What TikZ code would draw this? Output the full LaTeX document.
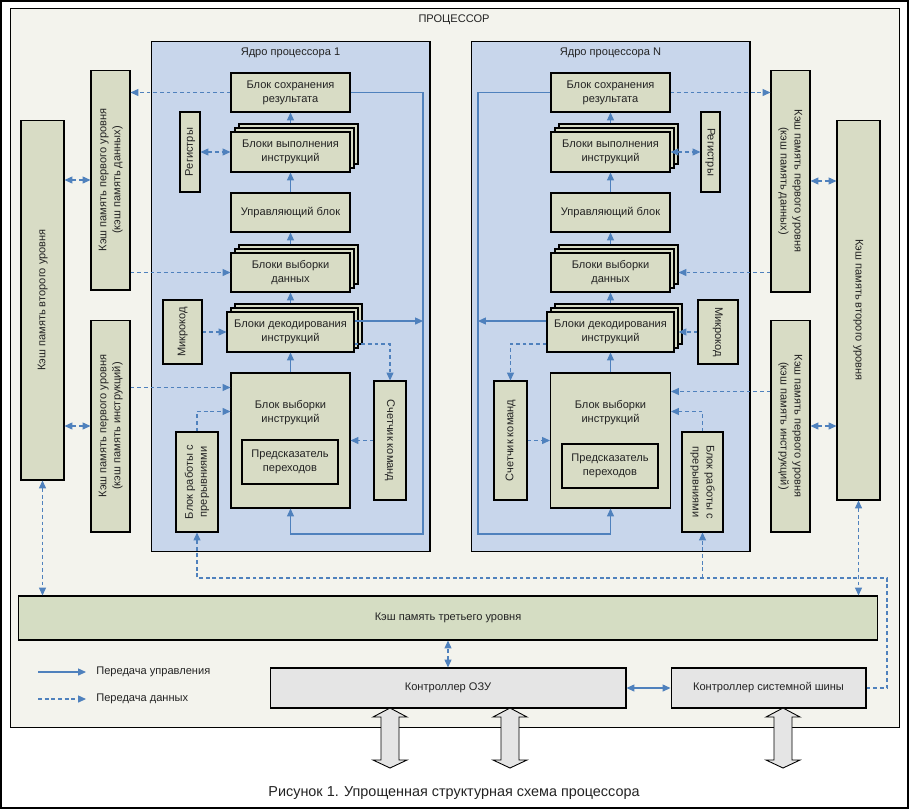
\documentclass[tikz,border=0pt]{standalone}
\usepackage{fontspec}
\setmainfont{Liberation Sans}
\usetikzlibrary{arrows.meta,shadows,positioning}

\definecolor{procbg}{RGB}{243,243,237}
\definecolor{corebg}{RGB}{200,214,235}
\definecolor{blkbg}{RGB}{216,220,197}
\definecolor{cachebg}{RGB}{213,221,195}
\definecolor{ctrlbg}{RGB}{229,229,229}
\definecolor{linkblue}{RGB}{79,129,189}
\definecolor{txtgray}{RGB}{35,35,35}

\newcommand\blkfont{\fontsize{6.3}{8}\selectfont}
\newcommand\vlab[2]{\rotatebox{#1}{\begin{tabular}{@{}c@{}}#2\end{tabular}}}

\tikzset{
  blk/.style={draw=black, fill=blkbg, line width=0.6pt, inner sep=0pt, align=center, text=txtgray},
  stack/.style={blk, copy shadow={shadow xshift=0.16cm, shadow yshift=0.16cm},
    copy shadow={shadow xshift=0.08cm, shadow yshift=0.08cm}},
  cache/.style={blk, fill=cachebg},
  ctrlbox/.style={blk, fill=ctrlbg},
  corebox/.style={draw=black, fill=corebg, line width=0.6pt, inner sep=0pt},
  lbl/.style={inner sep=0pt, align=center, text=txtgray},
  ctl/.style={draw=linkblue, line width=0.6pt, -{Triangle[length=4.5pt,width=4pt]}},
  ctl2/.style={ctl, {Triangle[length=4.5pt,width=4pt]}-{Triangle[length=4.5pt,width=4pt]}},
  dat/.style={ctl, dash pattern=on 2.2pt off 1.6pt},
  dat2/.style={ctl2, dash pattern=on 2.2pt off 1.6pt},
  bigarrow/.style={draw=black, fill=ctrlbg, line width=0.5pt}
}

\begin{document}
\begin{tikzpicture}[x=0.02cm, y=-0.02cm, font=\blkfont]
\useasboundingbox (0,0) rectangle (909,809);
\fill[white] (0,0) rectangle (909,809);
\draw[line width=1pt] (0.8,0.8) rectangle (908.2,808.2);

% processor and cores
\node[corebox, fill=procbg, minimum width=17.8cm, minimum height=14.4cm] (proc) at (455,368) {};
\node[lbl] (proct) at (454,20) {ПРОЦЕССОР};
\node[corebox, minimum width=5.58cm, minimum height=10.22cm] (core1) at (290.5,296.5) {};
\node[corebox, minimum width=5.58cm, minimum height=10.22cm] (coreN) at (610.5,296.5) {};
\node[lbl, anchor=north] (core1t) at ([yshift=-0.15cm]core1.north) {Ядро процессора 1};
\node[lbl, anchor=north] (coreNt) at ([yshift=-0.15cm]coreN.north) {Ядро процессора N};

% core 1
\node[blk, minimum width=2.38cm, minimum height=0.78cm] (save1) at (290.5,92.5) {Блок сохранения\\результата};
\node[stack, minimum width=2.38cm, minimum height=0.80cm] (exec1) at (290.5,152) {Блоки выполнения\\инструкций};
\node[blk, minimum width=0.40cm, minimum height=1.60cm] (reg1) at (190,152) {\vlab{90}{Регистры}};
\node[blk, minimum width=2.38cm, minimum height=0.78cm] (ctrl1) at (290.5,212.5) {Управляющий блок};
\node[stack, minimum width=2.38cm, minimum height=0.78cm] (dfetch1) at (290.5,272.5) {Блоки выборки\\данных};
\node[blk, minimum width=0.78cm, minimum height=1.28cm] (micro1) at (182.5,332) {\vlab{90}{Микрокод}};
\node[stack, minimum width=2.54cm, minimum height=0.80cm] (dec1) at (290.5,332) {Блоки декодирования\\инструкций};
\node[blk, minimum width=2.38cm, minimum height=2.70cm,
  label={[lbl, yshift=0.55cm]center:Блок выборки\\инструкций}] (ifetch1) at (290.5,440.5) {};
\node[blk, minimum width=1.92cm, minimum height=0.88cm] (pred1) at (290,462) {Предсказатель\\переходов};
\node[blk, minimum width=0.64cm, minimum height=2.38cm] (cnt1) at (390,440.5) {\vlab{-90}{Счетчик команд}};
\node[blk, minimum width=0.84cm, minimum height=2.00cm] (int1) at (197,482) {\vlab{90}{Блок работы с\\прерывниями}};

% core N
\node[blk, minimum width=2.38cm, minimum height=0.78cm] (saveN) at (610.5,92.5) {Блок сохранения\\результата};
\node[stack, minimum width=2.38cm, minimum height=0.80cm] (execN) at (610.5,152) {Блоки выполнения\\инструкций};
\node[blk, minimum width=0.38cm, minimum height=1.60cm] (regN) at (710.5,152) {\vlab{-90}{Регистры}};
\node[blk, minimum width=2.38cm, minimum height=0.78cm] (ctrlN) at (610.5,212.5) {Управляющий блок};
\node[stack, minimum width=2.38cm, minimum height=0.78cm] (dfetchN) at (610.5,272.5) {Блоки выборки\\данных};
\node[blk, minimum width=0.80cm, minimum height=1.28cm] (microN) at (718,332) {\vlab{-90}{Микрокод}};
\node[stack, minimum width=2.54cm, minimum height=0.80cm] (decN) at (610.5,332) {Блоки декодирования\\инструкций};
\node[blk, minimum width=2.40cm, minimum height=2.70cm,
  label={[lbl, yshift=0.55cm]center:Блок выборки\\инструкций}] (ifetchN) at (610.5,440.5) {};
\node[blk, minimum width=1.92cm, minimum height=0.88cm] (predN) at (610,466) {Предсказатель\\переходов};
\node[blk, minimum width=0.66cm, minimum height=2.38cm] (cntN) at (510.5,440.5) {\vlab{90}{Счетчик команд}};
\node[blk, minimum width=0.82cm, minimum height=2.00cm] (intN) at (702.5,482) {\vlab{-90}{Блок работы с\\прерывниями}};

% caches
\node[blk, minimum width=0.86cm, minimum height=7.20cm] (l2a) at (42.5,300) {\vlab{90}{Кэш память второго уровня}};
\node[blk, minimum width=0.78cm, minimum height=4.40cm] (l1da) at (110.5,180) {\vlab{90}{Кэш память первого уровня\\(кэш память данных)}};
\node[blk, minimum width=0.78cm, minimum height=4.24cm] (l1ia) at (110.5,426) {\vlab{90}{Кэш память первого уровня\\(кэш память инструкций)}};
\node[blk, minimum width=0.78cm, minimum height=4.44cm] (l1db) at (790.5,181) {\vlab{-90}{Кэш память первого уровня\\(кэш память данных)}};
\node[blk, minimum width=0.86cm, minimum height=7.60cm] (l2b) at (858.5,310) {\vlab{-90}{Кэш память второго уровня}};
\node[blk, minimum width=0.78cm, minimum height=4.24cm] (l1ib) at (790.5,426) {\vlab{-90}{Кэш память первого уровня\\(кэш память инструкций)}};
\node[cache, minimum width=17.20cm, minimum height=0.88cm] (l3) at (448,618) {Кэш память третьего уровня};

% controllers
\node[ctrlbox, minimum width=7.12cm, minimum height=0.80cm] (ram) at (448,688) {Контроллер ОЗУ};
\node[ctrlbox, minimum width=3.90cm, minimum height=0.80cm] (bus) at (768.5,688) {Контроллер системной шины};

% core 1 links
\draw[ctl] ([yshift=0.16cm]exec1.north) -- (save1.south);
\draw[ctl] (ctrl1.north) -- (exec1.south);
\draw[ctl] ([yshift=0.16cm]dfetch1.north) -- (ctrl1.south);
\draw[ctl] ([yshift=0.16cm]dec1.north) -- (dfetch1.south);
\draw[ctl] (ifetch1.north) -- (dec1.south);
\coordinate (ret1) at (423,534);
\draw[ctl] (save1.east) -| (ret1) -| (ifetch1.south);
\draw[ctl] ([yshift=0.22cm]dec1.east) -- ([yshift=0.22cm]dec1.east -| ret1);
\draw[dat] (save1.west) -- (save1.west -| l1da.east);
\draw[dat2] (reg1.east) -- (exec1.west);
\draw[dat2] (l1da.west) -- (l1da.west -| l2a.east);
\draw[dat] (dfetch1.west -| l1da.east) -- (dfetch1.west);
\draw[dat] (micro1.east) -- (dec1.west);
\draw[dat] ([yshift=-0.24cm]dec1.east) -| (cnt1.north);
\draw[dat] (cnt1.west) -- (cnt1.west -| ifetch1.east);
\draw[dat] ([yshift=-0.30cm]ifetch1.north west -| l1ia.east) -- ([yshift=-0.30cm]ifetch1.north west);
\draw[dat2] (l1ia.west) -- (l1ia.west -| l2a.east);
\draw[dat] (int1.north) |- ([yshift=-0.78cm]ifetch1.north west);

% core N links
\draw[ctl] ([yshift=0.16cm]execN.north) -- (saveN.south);
\draw[ctl] (ctrlN.north) -- (execN.south);
\draw[ctl] ([yshift=0.16cm]dfetchN.north) -- (ctrlN.south);
\draw[ctl] ([yshift=0.16cm]decN.north) -- (dfetchN.south);
\draw[ctl] (ifetchN.north) -- (decN.south);
\coordinate (retN) at (478,534);
\draw[ctl] (saveN.west) -| (retN) -| (ifetchN.south);
\draw[ctl] ([yshift=0.22cm]decN.west) -- ([yshift=0.22cm]decN.west -| retN);
\draw[dat] (saveN.east) -- (saveN.east -| l1db.west);
\draw[dat2] (execN.east) -- (regN.west);
\draw[dat2] (l1db.east) -- (l1db.east -| l2b.west);
\draw[dat] (dfetchN.east -| l1db.west) -- ([xshift=0.16cm]dfetchN.east);
\draw[dat] (microN.west) -- ([xshift=0.08cm]decN.east);
\draw[dat] ([yshift=-0.24cm]decN.west) -| (cntN.north);
\draw[dat] (cntN.east) -- (cntN.east -| ifetchN.west);
\draw[dat] ([yshift=-0.38cm]ifetchN.north east -| l1ib.west) -- ([yshift=-0.38cm]ifetchN.north east);
\draw[dat2] (l1ib.east) -- (l1ib.east -| l2b.west);
\draw[dat] (intN.north) |- ([yshift=-0.78cm]ifetchN.north east);

% lower links
\coordinate (busr) at (887,578);
\draw[dat] (bus.east) -| (busr) -| (int1.south);
\draw[dat] (intN.south |- busr) -- (intN.south);
\draw[dat2] (l2a.south) -- (l2a.south |- l3.north);
\draw[dat2] (l2b.south) -- (l2b.south |- l3.north);
\draw[dat2] (ram.north) -- (ram.north |- l3.south);
\draw[ctl2] (ram.east) -- (bus.west);

% legend
\node[lbl, anchor=west, inner sep=0.2cm] (lgc) at (86,672) {Передача управления};
\node[lbl, anchor=west, inner sep=0.2cm] (lgd) at (86,699) {Передача данных};
\coordinate (lgc0) at (38,672);
\coordinate (lgd0) at (38,699);
\draw[ctl] (lgc0) -- (lgc.west);
\draw[dat] (lgd0) -- (lgd.west);

% memory and bus arrows
\foreach \ax in {390,510,783}
  \draw[bigarrow] (\ax,708) -- ++(17,9) -- ++(-8,0) -- ++(0,43) -- ++(8,0) -- (\ax,768)
    -- ++(-17,-8) -- ++(8,0) -- ++(0,-43) -- ++(-8,0) -- cycle;

\node[lbl, font=\fontsize{8.2}{10}\selectfont] (cap) at (454,793) {Рисунок 1. Упрощенная структурная схема процессора};
\end{tikzpicture}
\end{document}
